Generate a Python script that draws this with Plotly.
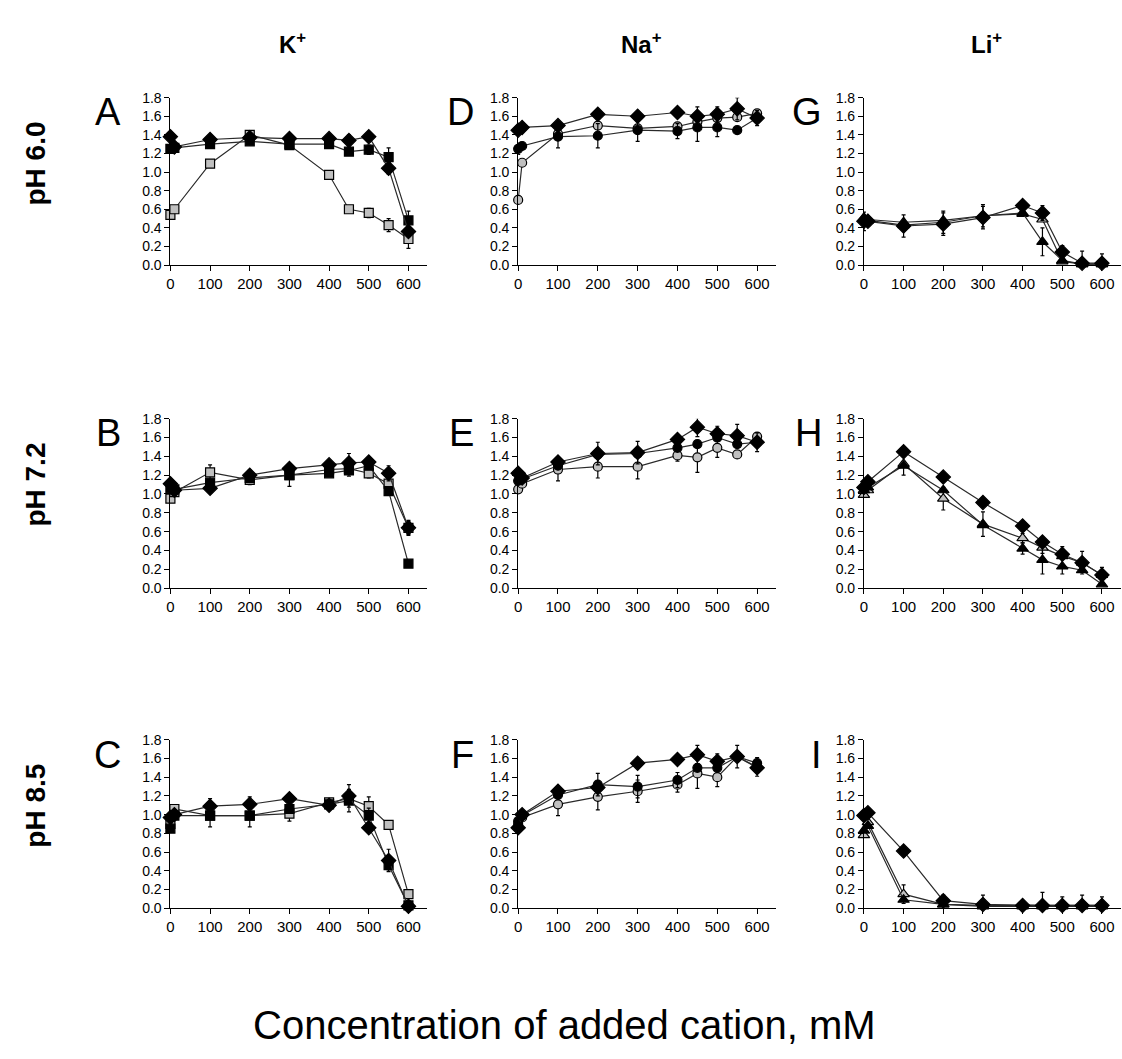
import plotly.graph_objects as go

W, H = 1122, 1059

# ---------------- data ----------------
conc = [0, 10, 100, 200, 300, 400, 450, 500, 550, 600]
x_ticks = [0, 100, 200, 300, 400, 500, 600]
y_ticks = [0.0, 0.2, 0.4, 0.6, 0.8, 1.0, 1.2, 1.4, 1.6, 1.8]

col_titles = ["K<sup>+</sup>", "Na<sup>+</sup>", "Li<sup>+</sup>"]
row_titles = ["pH 6.0", "pH 7.2", "pH 8.5"]
panel_letters = [["A", "D", "G"], ["B", "E", "H"], ["C", "F", "I"]]
x_title = "Concentration of added cation, mM"

# K+ panels (diamond black, square black, square gray)
A_dia = [1.38, 1.27, 1.35, 1.37, 1.36, 1.36, 1.34, 1.38, 1.04, 0.36]
A_blk = [1.25, 1.26, 1.30, 1.33, 1.30, 1.30, 1.22, 1.24, 1.16, 0.48]
A_gry = [0.54, 0.60, 1.09, 1.40, 1.29, 0.97, 0.60, 0.56, 0.43, 0.28]
A_err_dia = [0, 0, 0, 0, 0, 0, 0.06, 0, 0.06, 0.05]
A_err_blk = [0, 0, 0, 0, 0, 0.03, 0, 0.05, 0.10, 0.10]
A_err_gry = [0.03, 0, 0, 0, 0.03, 0.03, 0, 0.05, 0.07, 0.10]

B_dia = [1.11, 1.04, 1.06, 1.20, 1.27, 1.31, 1.33, 1.34, 1.22, 0.64]
B_blk = [1.06, 1.05, 1.12, 1.17, 1.20, 1.22, 1.25, 1.30, 1.03, 0.26]
B_gry = [0.95, 1.02, 1.23, 1.15, 1.20, 1.26, 1.27, 1.22, 1.11, 0.64]
B_err_dia = [0, 0, 0.03, 0.05, 0.03, 0.02, 0.10, 0.04, 0.08, 0.08]
B_err_blk = [0, 0, 0, 0, 0, 0, 0, 0, 0, 0]
B_err_gry = [0.04, 0, 0.08, 0.05, 0.12, 0.05, 0.08, 0.05, 0.05, 0.07]

C_dia = [0.97, 1.00, 1.09, 1.11, 1.17, 1.10, 1.20, 0.86, 0.51, 0.02]
C_blk = [0.85, 0.99, 0.99, 0.99, 1.06, 1.11, 1.15, 0.99, 0.46, 0.03]
C_gry = [0.90, 1.06, 0.99, 0.99, 1.01, 1.13, 1.17, 1.09, 0.89, 0.15]
C_err_dia = [0, 0, 0.08, 0.08, 0.03, 0.03, 0.12, 0.05, 0.12, 0]
C_err_blk = [0, 0, 0.12, 0.12, 0, 0.05, 0.12, 0.08, 0.05, 0]
C_err_gry = [0, 0, 0, 0, 0.08, 0.03, 0, 0.10, 0, 0]

# Na+ panels (diamond black, circle black, circle gray)
D_dia = [1.45, 1.48, 1.50, 1.62, 1.60, 1.64, 1.60, 1.62, 1.68, 1.58]
D_blk = [1.25, 1.28, 1.38, 1.39, 1.45, 1.44, 1.48, 1.48, 1.45, 1.58]
D_gry = [0.70, 1.10, 1.41, 1.50, 1.47, 1.49, 1.54, 1.58, 1.59, 1.63]
D_err_dia = [0, 0, 0, 0, 0, 0, 0.10, 0.08, 0.12, 0]
D_err_blk = [0.06, 0, 0.12, 0.13, 0.12, 0.08, 0.15, 0.10, 0, 0.08]
D_err_gry = [0, 0, 0, 0, 0, 0, 0, 0, 0, 0]

E_dia = [1.22, 1.17, 1.34, 1.43, 1.44, 1.58, 1.71, 1.64, 1.62, 1.55]
E_blk = [1.14, 1.16, 1.30, 1.42, 1.43, 1.49, 1.53, 1.60, 1.53, 1.55]
E_gry = [1.05, 1.11, 1.26, 1.29, 1.29, 1.41, 1.39, 1.49, 1.42, 1.61]
E_err_dia = [0, 0, 0, 0.12, 0.12, 0, 0.10, 0.08, 0.12, 0]
E_err_blk = [0, 0, 0, 0, 0, 0, 0, 0, 0, 0.10]
E_err_gry = [0, 0, 0.12, 0.12, 0.13, 0.06, 0.16, 0.10, 0, 0]

F_dia = [0.86, 1.00, 1.25, 1.29, 1.55, 1.59, 1.64, 1.57, 1.62, 1.50]
F_blk = [0.93, 0.99, 1.21, 1.32, 1.30, 1.37, 1.50, 1.50, 1.62, 1.55]
F_gry = [0.90, 0.97, 1.11, 1.19, 1.25, 1.32, 1.44, 1.40, 1.62, 1.51]
F_err_dia = [0, 0, 0, 0, 0, 0, 0.10, 0.08, 0.12, 0]
F_err_blk = [0, 0, 0, 0.12, 0.12, 0.08, 0, 0, 0, 0]
F_err_gry = [0, 0, 0.12, 0.14, 0.12, 0.08, 0.16, 0.10, 0, 0.10]

# Li+ panels (diamond black, triangle black, triangle gray)
G_dia = [0.47, 0.47, 0.42, 0.44, 0.51, 0.64, 0.56, 0.14, 0.02, 0.02]
G_blk = [0.49, 0.48, 0.43, 0.46, 0.53, 0.56, 0.25, 0.05, 0.01, 0.01]
G_gry = [0.51, 0.49, 0.46, 0.48, 0.53, 0.55, 0.49, 0.04, 0.01, 0.01]
G_err_dia = [0.10, 0, 0.12, 0.12, 0.12, 0.05, 0.08, 0.07, 0.13, 0.10]
G_err_blk = [0, 0, 0, 0.12, 0.12, 0, 0.15, 0, 0, 0]
G_err_gry = [0, 0, 0, 0, 0, 0, 0, 0, 0, 0]

H_dia = [1.07, 1.13, 1.45, 1.18, 0.91, 0.66, 0.49, 0.36, 0.27, 0.14]
H_blk = [1.04, 1.07, 1.30, 1.04, 0.67, 0.42, 0.30, 0.23, 0.19, 0.04]
H_gry = [0.99, 1.04, 1.32, 0.95, 0.68, 0.53, 0.43, 0.34, 0.27, 0.14]
H_err_dia = [0, 0, 0, 0, 0, 0, 0, 0, 0, 0]
H_err_blk = [0, 0, 0, 0, 0, 0.06, 0.15, 0.08, 0, 0]
H_err_gry = [0, 0, 0.12, 0.12, 0.13, 0.05, 0.06, 0.10, 0.12, 0.08]

I_dia = [0.99, 1.02, 0.61, 0.08, 0.04, 0.03, 0.03, 0.03, 0.03, 0.03]
I_blk = [0.83, 0.88, 0.09, 0.04, 0.03, 0.03, 0.03, 0.03, 0.03, 0.03]
I_gry = [0.78, 0.92, 0.15, 0.04, 0.02, 0.02, 0.02, 0.02, 0.02, 0.02]
I_err_dia = [0, 0, 0, 0, 0, 0, 0, 0, 0, 0]
I_err_blk = [0, 0, 0, 0, 0, 0, 0, 0, 0, 0]
I_err_gry = [0, 0, 0.10, 0.10, 0.12, 0.06, 0.15, 0.10, 0.12, 0.10]

panels = {
    (0, 0): (A_dia, A_blk, A_gry, A_err_dia, A_err_blk, A_err_gry),
    (1, 0): (B_dia, B_blk, B_gry, B_err_dia, B_err_blk, B_err_gry),
    (2, 0): (C_dia, C_blk, C_gry, C_err_dia, C_err_blk, C_err_gry),
    (0, 1): (D_dia, D_blk, D_gry, D_err_dia, D_err_blk, D_err_gry),
    (1, 1): (E_dia, E_blk, E_gry, E_err_dia, E_err_blk, E_err_gry),
    (2, 1): (F_dia, F_blk, F_gry, F_err_dia, F_err_blk, F_err_gry),
    (0, 2): (G_dia, G_blk, G_gry, G_err_dia, G_err_blk, G_err_gry),
    (1, 2): (H_dia, H_blk, H_gry, H_err_dia, H_err_blk, H_err_gry),
    (2, 2): (I_dia, I_blk, I_gry, I_err_dia, I_err_blk, I_err_gry),
}
col_symbol = ["square", "circle", "triangle-up"]
col_size = [9, 9, 10]

# ---------------- layout geometry (pixels) ----------------
col_px = [(167, 425), (516, 775), (863, 1121)]
row_px = [(91, 261), (417, 589), (743, 914)]
letter_right = [119, 474, 823]
FONT = "Liberation Sans, Arial, sans-serif"

def px_x(p):
    return p / W

def px_y(p):
    return 1 - p / H

fig = go.Figure()
layout_axes = {}
annotations = []

for r in range(3):
    for c in range(3):
        idx = r * 3 + c + 1
        xa = "x" if idx == 1 else f"x{idx}"
        ya = "y" if idx == 1 else f"y{idx}"
        dia, blk, gry, e_dia, e_blk, e_gry = panels[(r, c)]
        sym = col_symbol[c]
        series = [
            (gry, e_gry, sym, "#c0c0c0", col_size[c]),
            (blk, e_blk, sym, "#000000", col_size[c]),
            (dia, e_dia, "diamond", "#000000", 11),
        ]
        for vals, errs, s, fill, size in series:
            fig.add_trace(go.Scatter(
                x=conc, y=vals, xaxis=xa, yaxis=ya, mode="lines+markers",
                line=dict(color="#2a2a2a", width=1.2),
                marker=dict(symbol=s, size=size, color=fill,
                            line=dict(color="#000000", width=1.2)),
                error_y=dict(type="data", array=errs, visible=True,
                             color="#000000", thickness=1.2, width=2),
                cliponaxis=False, showlegend=False, hoverinfo="x+y"))
        x0, x1 = col_px[c]
        ytop, ybot = row_px[r]
        xkey = "xaxis" if idx == 1 else f"xaxis{idx}"
        ykey = "yaxis" if idx == 1 else f"yaxis{idx}"
        layout_axes[xkey] = dict(
            domain=[px_x(x0), px_x(x1)], anchor=ya, range=[0, 648],
            tickvals=x_ticks, ticks="outside", ticklen=5, tickwidth=1,
            tickcolor="black", showline=True, linecolor="black", linewidth=1,
            showgrid=False, zeroline=False,
            tickfont=dict(family=FONT, size=15, color="black"))
        layout_axes[ykey] = dict(
            domain=[px_y(ybot), px_y(ytop)], anchor=xa, range=[0, 1.8],
            tickvals=y_ticks, tickformat=".1f", ticks="outside", ticklen=5,
            tickwidth=1, tickcolor="black", showline=True, linecolor="black",
            linewidth=1, showgrid=False, zeroline=False,
            tickfont=dict(family=FONT, size=14, color="black"))
        annotations.append(dict(
            text=panel_letters[r][c], xref="paper", yref="paper",
            x=px_x(letter_right[c]), y=px_y(ytop + 15), xanchor="right",
            yanchor="middle", showarrow=False,
            font=dict(family=FONT, size=38, color="black")))

for c in range(3):
    x0, x1 = col_px[c]
    annotations.append(dict(
        text="<b>" + col_titles[c] + "</b>", xref="paper", yref="paper",
        x=px_x((x0 + x1) / 2 - 6), y=px_y(36), xanchor="center", yanchor="middle",
        showarrow=False, font=dict(family=FONT, size=24, color="black")))

for r in range(3):
    ytop, ybot = row_px[r]
    annotations.append(dict(
        text="<b>" + row_titles[r] + "</b>", xref="paper", yref="paper",
        x=px_x(32), y=px_y(ytop + 67), xanchor="center", yanchor="middle",
        textangle=-90, showarrow=False,
        font=dict(family=FONT, size=28, color="black")))

annotations.append(dict(
    text=x_title, xref="paper", yref="paper", x=px_x(563), y=px_y(1033),
    xanchor="center", yanchor="middle", showarrow=False,
    font=dict(family=FONT, size=40, color="black")))

fig.update_layout(
    width=W, height=H, margin=dict(l=0, r=0, t=0, b=0),
    paper_bgcolor="white", plot_bgcolor="white",
    annotations=annotations, showlegend=False, **layout_axes)

fig.write_html("out.html")
